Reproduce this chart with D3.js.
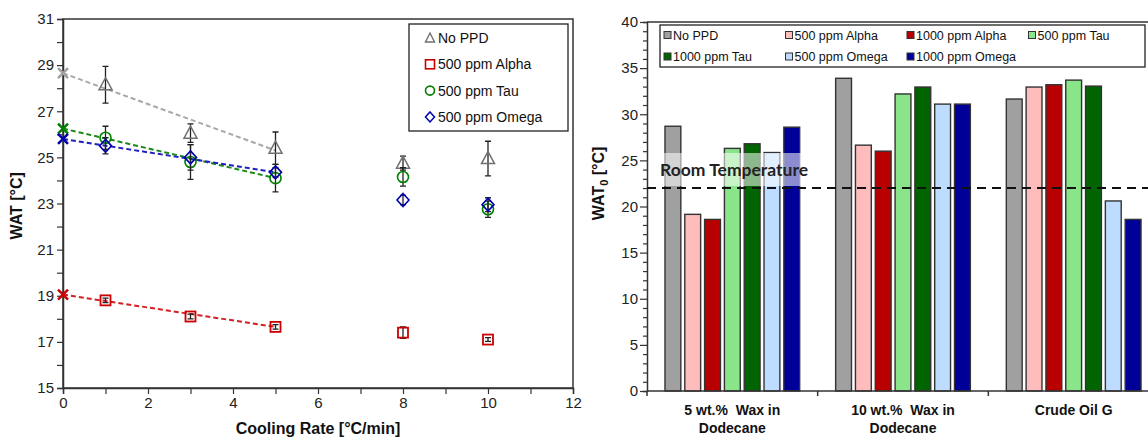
<!DOCTYPE html>
<html>
<head>
<meta charset="utf-8">
<script src="https://cdn.jsdelivr.net/npm/d3@7"></script>
<style>
  body { margin: 0; background: #fff; }
  svg { display: block; font-family: Arial, "Liberation Sans", sans-serif; }
</style>
</head>
<body>
<svg id="viz" width="1148" height="439"></svg>
<script>
// left panel: WAT vs cooling rate
var rates = [1, 3, 5, 8, 10];
var noPPD = [28.15, 26.05, 25.4, 24.75, 24.95];
var noPPDErr = [0.8, 0.4, 0.7, 0.3, 0.75];
var alpha500 = [18.8, 18.1, 17.65, 17.4, 17.1];
var alpha500Err = [0.1, 0.1, 0.1, 0.25, 0.08];
var tau500 = [25.85, 24.8, 24.1, 24.15, 22.75];
var tau500Err = [0.5, 0.75, 0.6, 0.4, 0.35];
var omega500 = [25.5, 25.0, 24.35, 23.15, 22.95];
var omega500Err = [0.35, 0.55, 0.2, 0.2, 0.3];
// extrapolated value at 0 and fit value at 5 degC/min
var fitX = [0, 5];
var noPPDFit = [28.65, 25.3];
var alpha500Fit = [19.05, 17.65];
var tau500Fit = [26.25, 24.1];
var omega500Fit = [25.8, 24.35];
var leftYTicks = [15, 17, 19, 21, 23, 25, 27, 29, 31];
var leftXTicks = [0, 2, 4, 6, 8, 10, 12];

// right panel: WAT0 bars
var samples = [["5 wt.%  Wax in", "Dodecane"], ["10 wt.%  Wax in", "Dodecane"], ["Crude Oil G"]];
var barSeries = ["No PPD", "500 ppm Alpha", "1000 ppm Alpha", "500 ppm Tau", "1000 ppm Tau", "500 ppm Omega", "1000 ppm Omega"];
var barColors = ["#a0a0a0", "#ffbcbc", "#b80000", "#8ae48a", "#006400", "#bedcff", "#000099"];
var wat0 = [
  [28.7, 19.15, 18.6, 26.3, 26.8, 25.85, 28.6],
  [33.9, 26.65, 26.0, 32.2, 32.95, 31.1, 31.1],
  [31.65, 32.95, 33.2, 33.7, 33.05, 20.6, 18.6]
];
var roomTemp = 22;
var rightYTicks = [0, 5, 10, 15, 20, 25, 30, 35, 40];

var svg = d3.select('svg#viz');
var axisCol = '#333';

// ---------- left panel ----------
var L = {left: 63, right: 573, top: 19, bottom: 388};
var xL = d3.scaleLinear().domain([0, 12]).range([L.left, L.right]);
var yL = d3.scaleLinear().domain([15, 31]).range([L.bottom, L.top]);

var gl = svg.append('g');
gl.append('rect')
    .attr('x', L.left).attr('y', L.top)
    .attr('width', L.right - L.left).attr('height', L.bottom - L.top)
    .attr('fill', 'none').attr('stroke', axisCol).attr('stroke-width', 1.5);

gl.append('g')
    .attr('transform', 'translate(0,' + L.bottom + ')')
    .call(d3.axisBottom(xL).tickValues(d3.range(0, 13, 1)).tickSize(6)
        .tickFormat(function(d) { return leftXTicks.indexOf(d) >= 0 ? d : ''; }))
    .call(styleAxis);
gl.append('g')
    .attr('transform', 'translate(' + L.left + ',0)')
    .call(d3.axisLeft(yL).tickValues(d3.range(15, 32, 1)).tickSize(6)
        .tickFormat(function(d) { return leftYTicks.indexOf(d) >= 0 ? d : ''; }))
    .call(styleAxis);

gl.append('text').attr('x', xL(6)).attr('y', 434)
    .attr('text-anchor', 'middle').attr('font-weight', 'bold').attr('font-size', 16)
    .attr('fill', '#111').text('Cooling Rate [°C/min]');
gl.append('text').attr('transform', 'translate(22,' + yL(22.9) + ') rotate(-90)')
    .attr('text-anchor', 'middle').attr('font-weight', 'bold').attr('font-size', 16)
    .attr('fill', '#111').text('WAT [°C]');

var leftSeries = [
  {name: 'No PPD', vals: noPPD, err: noPPDErr, fit: noPPDFit, color: '#707070', line: '#a8a8a8', shape: 'tri'},
  {name: '500 ppm Alpha', vals: alpha500, err: alpha500Err, fit: alpha500Fit, color: '#cc0000', line: '#d42020', shape: 'sq'},
  {name: '500 ppm Tau', vals: tau500, err: tau500Err, fit: tau500Fit, color: '#008000', line: '#1a8a1a', shape: 'circ'},
  {name: '500 ppm Omega', vals: omega500, err: omega500Err, fit: omega500Fit, color: '#0000b0', line: '#2020c0', shape: 'dia'}
];

function marker(g, shape, cx, cy, color) {
  if (shape === 'tri') {
    g.append('path').attr('d', 'M' + cx + ',' + (cy - 7) + 'L' + (cx + 6.5) + ',' + (cy + 5) + 'L' + (cx - 6.5) + ',' + (cy + 5) + 'Z')
        .attr('fill', 'none').attr('stroke', color).attr('stroke-width', 1.5);
  } else if (shape === 'sq') {
    g.append('rect').attr('x', cx - 5).attr('y', cy - 5).attr('width', 10).attr('height', 10)
        .attr('fill', 'none').attr('stroke', color).attr('stroke-width', 1.8);
  } else if (shape === 'circ') {
    g.append('circle').attr('cx', cx).attr('cy', cy).attr('r', 5.5)
        .attr('fill', 'none').attr('stroke', color).attr('stroke-width', 1.6);
  } else {
    g.append('path').attr('d', 'M' + cx + ',' + (cy - 6.5) + 'L' + (cx + 6) + ',' + cy + 'L' + cx + ',' + (cy + 6.5) + 'L' + (cx - 6) + ',' + cy + 'Z')
        .attr('fill', 'none').attr('stroke', color).attr('stroke-width', 1.6);
  }
}

leftSeries.forEach(function(s) {
  // fit line and extrapolated point
  gl.append('line')
      .attr('x1', xL(fitX[0])).attr('y1', yL(s.fit[0]))
      .attr('x2', xL(fitX[1])).attr('y2', yL(s.fit[1]))
      .attr('stroke', s.line).attr('stroke-width', 2).attr('stroke-dasharray', '5,3');
  var cx = xL(fitX[0]), cy = yL(s.fit[0]);
  gl.append('path').attr('d', 'M' + (cx - 5) + ',' + (cy - 5) + 'L' + (cx + 5) + ',' + (cy + 5) + 'M' + (cx - 5) + ',' + (cy + 5) + 'L' + (cx + 5) + ',' + (cy - 5))
      .attr('stroke', s.shape === 'tri' ? '#a0a0a0' : s.color).attr('stroke-width', 2.5);
});

leftSeries.forEach(function(s) {
  var g = gl.append('g');
  s.vals.forEach(function(v, i) {
    var x = xL(rates[i]);
    var y0 = yL(v - s.err[i]), y1 = yL(v + s.err[i]);
    g.append('path')
        .attr('d', 'M' + x + ',' + y0 + 'V' + y1 + 'M' + (x - 3) + ',' + y0 + 'H' + (x + 3) + 'M' + (x - 3) + ',' + y1 + 'H' + (x + 3))
        .attr('stroke', '#222').attr('stroke-width', 1.3).attr('fill', 'none');
    marker(g, s.shape, x, yL(v), s.color);
  });
});

// left legend
var lg = gl.append('g');
lg.append('rect').attr('x', 409).attr('y', 24).attr('width', 159).attr('height', 107)
    .attr('fill', '#fff').attr('stroke', '#222').attr('stroke-width', 1.3);
leftSeries.forEach(function(s, i) {
  var y = 38 + i * 26.3;
  var sh = s.shape;
  if (sh === 'tri') {
    lg.append('path').attr('d', 'M430,' + (y - 5) + 'L434.5,' + (y + 4) + 'L425.5,' + (y + 4) + 'Z')
        .attr('fill', 'none').attr('stroke', s.color).attr('stroke-width', 1.4);
  } else if (sh === 'sq') {
    lg.append('rect').attr('x', 425.5).attr('y', y - 4.5).attr('width', 9).attr('height', 9)
        .attr('fill', 'none').attr('stroke', s.color).attr('stroke-width', 1.6);
  } else if (sh === 'circ') {
    lg.append('circle').attr('cx', 430).attr('cy', y).attr('r', 4.5)
        .attr('fill', 'none').attr('stroke', s.color).attr('stroke-width', 1.6);
  } else {
    lg.append('path').attr('d', 'M430,' + (y - 5) + 'L434.5,' + y + 'L430,' + (y + 5) + 'L425.5,' + y + 'Z')
        .attr('fill', 'none').attr('stroke', s.color).attr('stroke-width', 1.5);
  }
  lg.append('text').attr('x', 438).attr('y', y + 5).attr('font-size', 14).attr('fill', '#111').text(s.name);
});

// ---------- right panel ----------
var R = {left: 647, right: 1159, top: 22, bottom: 391};
var x0 = d3.scaleBand().domain(d3.range(samples.length)).range([R.left, R.right]);
var x1 = d3.scaleBand().domain(barSeries).range([16, x0.bandwidth() - 16]).paddingInner(0.2).paddingOuter(0.1);
var yR = d3.scaleLinear().domain([0, 40]).range([R.bottom, R.top]);

var gr = svg.append('g');
gr.append('line').attr('x1', R.left).attr('x2', R.right).attr('y1', R.top).attr('y2', R.top)
    .attr('stroke', axisCol).attr('stroke-width', 1.5);

gr.append('g')
    .attr('transform', 'translate(' + R.left + ',0)')
    .call(d3.axisLeft(yR).tickValues(d3.range(0, 41, 1)).tickSize(4)
        .tickFormat(function(d) { return rightYTicks.indexOf(d) >= 0 ? d : ''; }))
    .call(styleAxis)
    .call(function(g) {
      g.selectAll('.tick line').attr('x2', function(d) { return d % 5 === 0 ? -7 : -4; });
      g.selectAll('.tick text').attr('x', -9);
    });

// bars
samples.forEach(function(lab, ci) {
  var g = gr.append('g').attr('transform', 'translate(' + x0(ci) + ',0)');
  g.selectAll('rect').data(wat0[ci]).enter().append('rect')
      .attr('x', function(d, i) { return x1(barSeries[i]); })
      .attr('y', function(d) { return yR(d); })
      .attr('width', x1.bandwidth())
      .attr('height', function(d) { return yR(0) - yR(d); })
      .attr('fill', function(d, i) { return barColors[i]; })
      .attr('stroke', '#333').attr('stroke-width', 1.4);
});

// x axis line with category separators
gr.append('line').attr('x1', R.left).attr('x2', R.right).attr('y1', R.bottom).attr('y2', R.bottom)
    .attr('stroke', axisCol).attr('stroke-width', 1.5);
gr.selectAll('.sep').data(d3.range(samples.length + 1)).enter().append('line')
    .attr('x1', function(d) { return R.left + d * x0.step(); })
    .attr('x2', function(d) { return R.left + d * x0.step(); })
    .attr('y1', R.bottom).attr('y2', R.bottom + 5)
    .attr('stroke', axisCol).attr('stroke-width', 1.5);

samples.forEach(function(lab, ci) {
  var t = gr.append('text').attr('x', x0(ci) + x0.bandwidth() / 2).attr('y', 415)
      .attr('text-anchor', 'middle').attr('font-weight', 'bold').attr('font-size', 14).attr('fill', '#111');
  lab.forEach(function(line, li) {
    t.append('tspan').attr('x', x0(ci) + x0.bandwidth() / 2).attr('dy', li === 0 ? 0 : 18).attr('xml:space', 'preserve').text(line);
  });
});

// room temperature
gr.append('rect').attr('x', 650).attr('y', 153).attr('width', 158).attr('height', 33)
    .attr('fill', '#fff').attr('opacity', 0.55);
gr.append('line').attr('x1', R.left).attr('x2', R.right).attr('y1', yR(roomTemp)).attr('y2', yR(roomTemp))
    .attr('stroke', '#111').attr('stroke-width', 2).attr('stroke-dasharray', '9,6');
gr.append('text').attr('x', 660).attr('y', 176).attr('font-family', 'Lato, "Open Sans", sans-serif')
    .attr('font-weight', 'bold').attr('font-size', 17.5).attr('fill', '#222').text('Room Temperature');

// y title with subscript
var yt = gr.append('text').attr('transform', 'translate(604,' + yR(22.5) + ') rotate(-90)')
    .attr('text-anchor', 'middle').attr('font-weight', 'bold').attr('font-size', 16).attr('fill', '#111');
yt.append('tspan').text('WAT');
yt.append('tspan').attr('font-size', 11).attr('dy', 4).text('0');
yt.append('tspan').attr('dy', -4).text(' [°C]');

// right legend
var rg = gr.append('g');
rg.append('rect').attr('x', 660).attr('y', 25).attr('width', 485).attr('height', 42)
    .attr('fill', '#fff').attr('stroke', '#222').attr('stroke-width', 1.3);
barSeries.forEach(function(name, i) {
  var col = i % 4, row = Math.floor(i / 4);
  var x = 664 + col * 121.5, y = 35 + row * 21.5;
  rg.append('rect').attr('x', x).attr('y', y - 3.5).attr('width', 7).attr('height', 7)
      .attr('fill', barColors[i]).attr('stroke', '#333').attr('stroke-width', 1);
  rg.append('text').attr('x', x + 9).attr('y', y + 4.5).attr('font-size', 12.5).attr('fill', '#111').text(name);
});

function styleAxis(g) {
  g.select('.domain').attr('stroke', axisCol).attr('stroke-width', 1.5);
  g.selectAll('.tick line').attr('stroke', axisCol).attr('stroke-width', 1.2);
  g.selectAll('.tick text').attr('font-size', 15).attr('fill', '#222')
      .attr('font-family', 'Arial, "Liberation Sans", sans-serif');
}
</script>
</body>
</html>
